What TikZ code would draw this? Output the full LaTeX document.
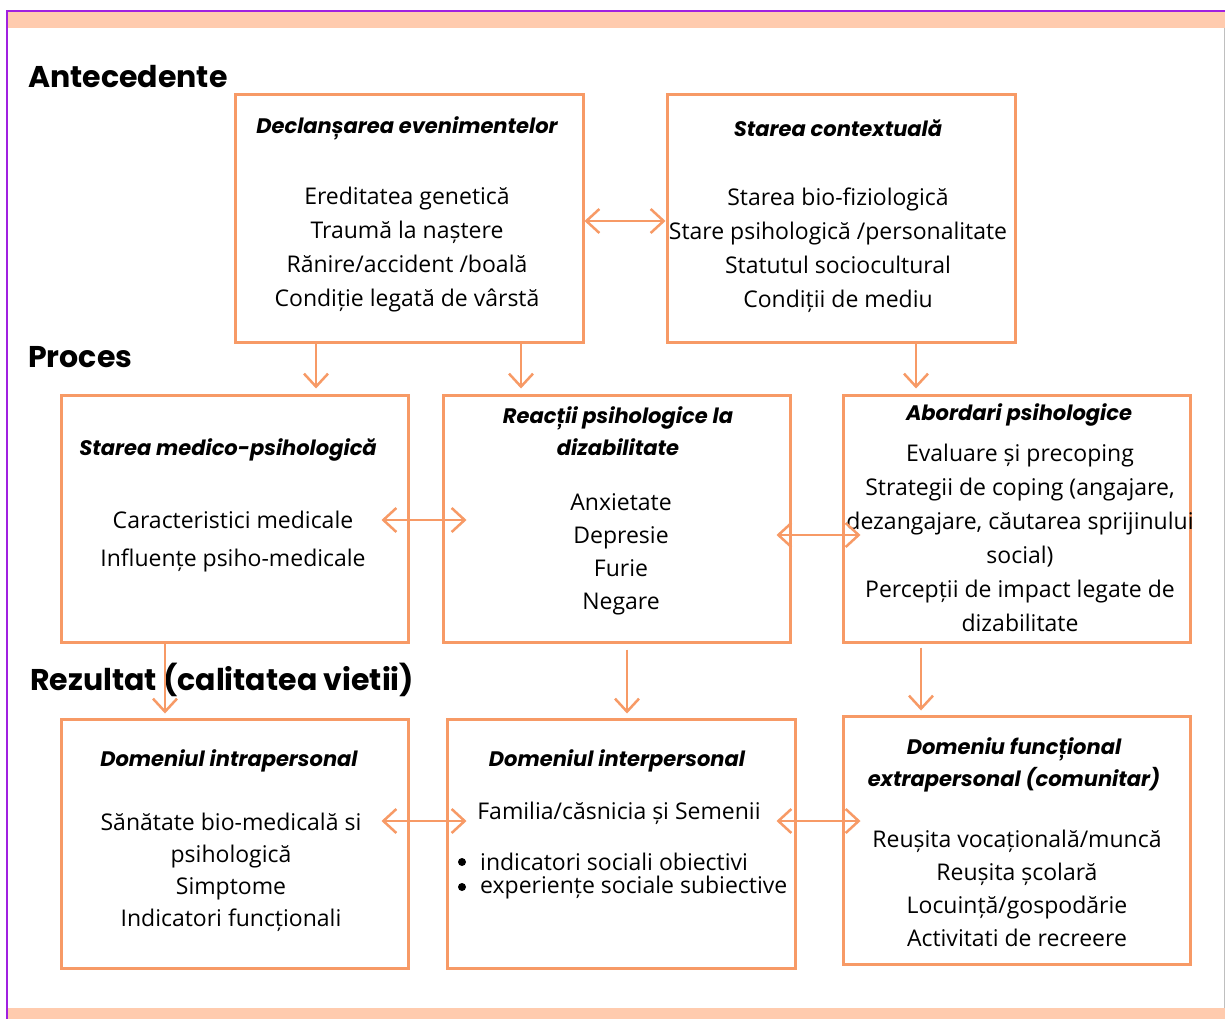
\documentclass[tikz,border=0pt]{standalone}
\usepackage{fontspec}
\setmainfont{Open Sans}
\newfontfamily\headfont{Poppins}
\usetikzlibrary{arrows.meta}
\definecolor{boxline}{HTML}{F79A66}
\definecolor{band}{HTML}{FFCBAE}
\definecolor{framepurple}{HTML}{A020E0}
\tikzset{
  x=1pt, y=-1pt,
  box/.style={draw=boxline, line width=3pt, minimum width=#1, minimum height=247pt, inner sep=0pt},
  ttl/.style={font=\headfont\fontsize{21}{32}\selectfont\bfseries\itshape, align=center, inner sep=0pt},
  body/.style={font=\fontsize{23}{34}\selectfont, align=center, inner sep=0pt},
  bullet/.style={circle, fill=black, inner sep=0pt, minimum size=8pt},
  section/.style={font=\headfont\fontsize{30}{32}\selectfont\bfseries, anchor=west, inner sep=0pt},
  arr/.style={draw=boxline, line width=2.5pt, -{Straight Barb[length=13pt,width=24pt,line width=2.5pt]}},
  dbl/.style={draw=boxline, line width=2.5pt, {Straight Barb[length=13pt,width=24pt,line width=2.5pt]}-{Straight Barb[length=13pt,width=24pt,line width=2.5pt]}}
}
\begin{document}
\begin{tikzpicture}
\useasboundingbox (0,0) rectangle (1225,1019);
\fill[white] (0,0) rectangle (1225,1019);
% page frame and bands
\fill[band] (7,12) rectangle (1225,28);
\fill[band] (7,1008) rectangle (1225,1019);
\draw[framepurple, line width=2pt] (7,1019) -- (7,11) -- (1225,11);
\draw[gray!50, line width=1pt] (1224,28) -- (1224,1008);

% section headings
\node[section] (hA) at (28,77) {Antecedente};
\node[section] (hP) at (28,357) {Proces};
\node[section] (hR) at (30,680) {Rezultat\ (calitatea vietii)};

% boxes
\node[box=348pt] (b1) at (409,218.5) {};
\node[box=348pt] (b2) at (841,218.5) {};
\node[box=347pt] (b3) at (234.5,518.5) {};
\node[box=347pt] (b4) at (616.5,518.5) {};
\node[box=347pt] (b5) at (1016.5,518.5) {};
\node[box=347pt, minimum height=249pt] (b6) at (234.5,843.5) {};
\node[box=348pt, minimum height=249pt] (b7) at (621,843.5) {};
\node[box=347pt, minimum height=248pt] (b8) at (1016.5,840) {};

% box contents
\node[ttl] (t1) at (407,128) {Declanșarea evenimentelor};
\node[body] (c1) at (407,250) {Ereditatea genetică\\Traumă la naștere\\Rănire/accident /boală\\Condiție legată de vârstă};

\node[ttl] (t2) at (838,128) {Starea contextuală};
\node[body] (c2) at (838,250) {Starea bio-fiziologică\\Stare psihologică /personalitate\\Statutul sociocultural\\Condiții de mediu};

\node[ttl] (t3) at (228,450) {Starea medico-psihologică};
\node[body, font=\fontsize{23}{38}\selectfont] (c3) at (233,542) {Caracteristici medicale\\Influențe psiho-medicale};

\node[ttl] (t4) at (618,431) {Reacții psihologice la\\dizabilitate};
\node[body, font=\fontsize{23}{33}\selectfont] (c4) at (621,554) {Anxietate\\Depresie\\Furie\\Negare};

\node[ttl] (t5) at (1019,415) {Abordari psihologice};
\node[body] (c5) at (1020,538) {Evaluare și precoping\\Strategii de coping (angajare,\\dezangajare, căutarea sprijinului\\social)\\Percepții de impact legate de\\dizabilitate};

\node[ttl] (t6) at (229,761) {Domeniul intrapersonal};
\node[body, font=\fontsize{23}{32}\selectfont] (c6) at (231,872) {Sănătate bio-medicală si\\psihologică\\Simptome\\Indicatori funcționali};

\node[ttl] (t7) at (617,761) {Domeniul interpersonal};
\node[body] (c7) at (619,813) {Familia/căsnicia și Semenii};
\node[bullet] (d1) at (462,862) {};
\node[bullet] (d2) at (462,887) {};
\node[body, anchor=west] (c7a) at (480,862) {indicatori sociali obiectivi};
\node[body, anchor=west] (c7b) at (480,888) {experiențe sociale subiective};

\node[ttl] (t8) at (1014,765) {Domeniu funcțional\\extrapersonal (comunitar)};
\node[body, font=\fontsize{23}{33}\selectfont] (c8) at (1017,888) {Reușita vocațională/muncă\\Reușita școlară\\Locuință/gospodărie\\Activitati de recreere};

% vertical connectors
\draw[arr] ([xshift=-93pt]b1.south) -- ([xshift=81.5pt,yshift=5pt]b3.north);
\draw[arr] ([xshift=112pt]b1.south) -- ([xshift=-95.5pt,yshift=5pt]b4.north);
\draw[arr] ([xshift=75pt]b2.south) -- ([xshift=-100.5pt,yshift=5pt]b5.north);
\draw[arr] ([xshift=-69.5pt]b3.south) -- ([xshift=-69.5pt,yshift=4pt]b6.north);
\draw[arr] ([xshift=10.5pt,yshift=-6pt]b4.south) -- ([xshift=6pt,yshift=4pt]b7.north);
\draw[arr] ([xshift=-95.5pt,yshift=-4pt]b5.south) -- ([xshift=-95.5pt,yshift=4pt]b8.north);

% horizontal two-way connectors
\draw[dbl] ([yshift=-2.5pt]b1.east) -- ([yshift=-2.5pt]b2.west);
\draw[dbl] ([xshift=-28pt,yshift=-1.5pt]b3.east) -- ([xshift=25pt,yshift=-1.5pt]b4.west);
\draw[dbl] ([xshift=-15pt,yshift=-16.5pt]b4.east) -- ([xshift=19pt,yshift=-16.5pt]b5.west);
\draw[dbl] ([xshift=-28pt,yshift=22.5pt]b6.east) -- ([xshift=21pt,yshift=22.5pt]b7.west);
\draw[dbl] ([xshift=-20pt,yshift=22.5pt]b7.east) -- ([xshift=19pt,yshift=19pt]b8.west);
\end{tikzpicture}
\end{document}
